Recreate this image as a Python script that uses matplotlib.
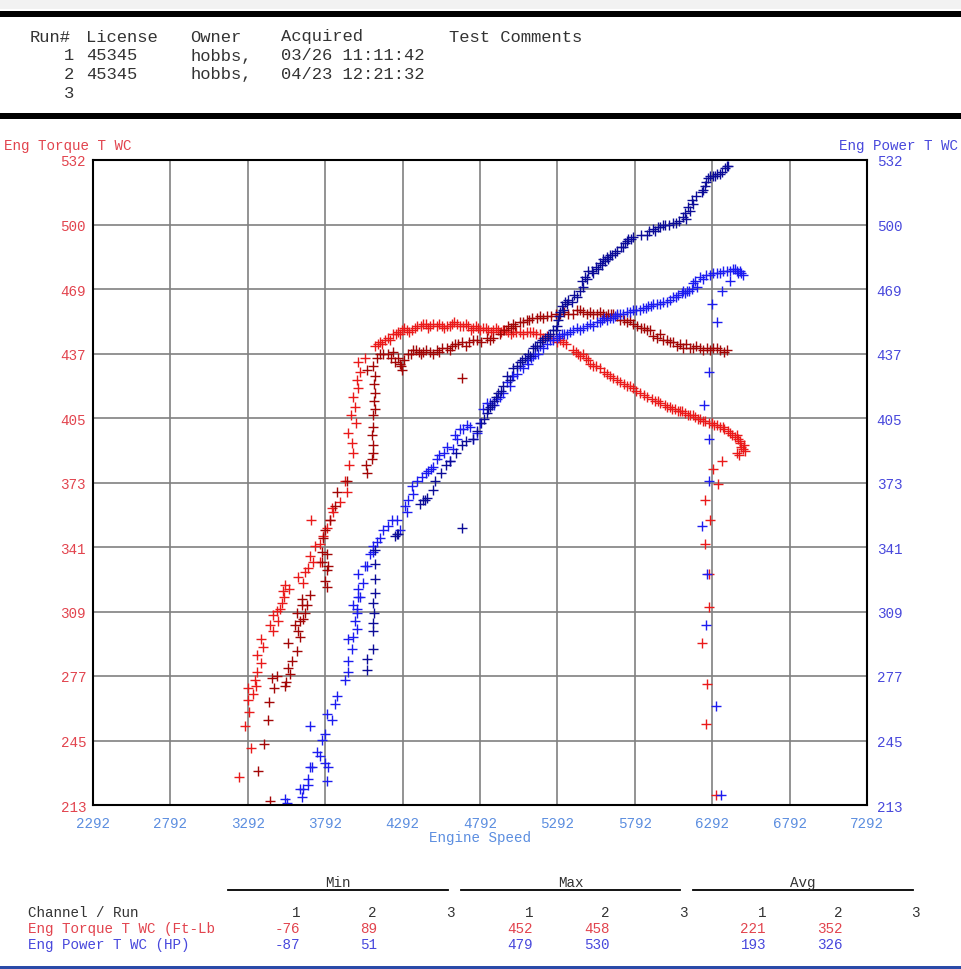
import matplotlib.pyplot as plt
from matplotlib.patches import Rectangle

W, H = 962, 970

# run 1 (03/26) - torque, bright red
tq1_rpm = [3235, 3274, 3313, 3300, 3293, 3326, 3293, 3345, 3339, 3351, 3377, 3351, 3390, 3377,
           3455, 3435, 3487, 3455, 3481, 3500, 3513, 3526, 3519, 3558, 3532, 3616, 3649, 3662,
           3681, 3713, 3758, 3700, 3694, 3726, 3758, 3778, 3804, 3823, 3842, 3836, 3888, 3933,
           3920, 3946, 3972, 3965, 3939, 3991, 3959, 3985, 3974, 4006, 3996, 4017, 4006, 4049,
           4114, 4146, 4180, 4211, 4232, 4260, 4290, 4318, 4351, 4383, 4410, 4440, 4469, 4490,
           4512, 4545, 4577, 4610, 4641, 4684, 4715, 4749, 4780, 4813, 4845, 4878, 4910, 4943,
           4975, 5007, 5050, 5094, 5134, 5180, 5223, 5265, 5309, 5350, 5393, 5425, 5457, 5490,
           5522, 5567, 5610, 5651, 5696, 5740, 5780, 5826, 5871, 5923, 5955, 5987, 6020, 6052,
           6085, 6116, 6150, 6181, 6215, 6246, 6291, 6320, 6342, 6370, 6394, 6420, 6439, 6460,
           6472, 6491, 6452, 6504, 6480,
           6355, 6297, 6329, 6246, 6278, 6246, 6271, 6271, 6226, 6258, 6252, 6317,
           4300, 4335, 4370, 4425, 4455, 4530, 4560, 4595, 4625, 4660, 4700, 4735, 4765, 4795,
           4830, 4860, 4895, 4925, 4960, 4990, 5025, 5070, 5115, 5155, 5200, 5245, 5290, 5330,
           5410, 5440, 5475, 5505, 5540, 5590, 5630, 5675, 5720, 5760, 5800, 5850, 5900, 5940,
           6000, 6035, 6070, 6100, 6135, 6165, 6200, 6230, 6270, 6305, 6360, 6410, 6450, 6470,
           6495, 6465, 4130, 4160, 4195, 4250, 4275]
tq1 = [227, 252, 241, 259, 265, 268, 271, 272, 275, 279, 283, 287, 291, 295,
       299, 302, 304, 307, 309, 310, 313, 316, 319, 320, 322, 326, 323, 328,
       330, 333, 333, 354, 336, 341, 342, 346, 350, 354, 358, 360, 363, 368,
       373, 381, 387, 392, 397, 402, 406, 410, 415, 419, 423, 427, 432, 434,
       440, 442, 443, 443, 446, 447, 448, 448, 448, 450, 450, 451, 450, 451,
       450, 450, 450, 451, 451, 450, 450, 449, 449, 449, 448, 448, 448, 448,
       447, 447, 447, 447, 447, 446, 445, 444, 443, 441, 438, 436, 436, 433,
       430, 429, 426, 424, 422, 420, 419, 417, 415, 413, 412, 411, 410, 409,
       408, 407, 406, 405, 404, 403, 402, 401, 400, 399, 398, 396, 395, 394,
       393, 389, 387, 388, 390,
       383, 379, 372, 364, 354, 342, 327, 311, 293, 273, 253, 218,
       449, 447, 449, 451, 449, 451, 449, 450, 452, 450, 451, 448, 450, 448,
       449, 447, 449, 447, 448, 446, 447, 446, 447, 446, 444, 444, 442, 442,
       437, 435, 434, 431, 430, 427, 425, 423, 421, 420, 418, 416, 414, 413,
       410, 409, 408, 408, 406, 406, 404, 403, 402, 401, 400, 397, 396, 392,
       391, 386, 441, 441, 444, 446, 446]

# run 2 (04/23) - torque, dark red
tq2_rpm = [3435, 3360, 3399, 3420, 3431, 3463, 3446, 3479, 3532, 3539, 3565, 3554, 3576, 3608,
           3554, 3629, 3618, 3597, 3629, 3647, 3608, 3662, 3640, 3672, 3640, 3694, 3791, 3802,
           3802, 3812, 3769, 3802, 3769, 3780, 3791, 3823, 3855, 3866, 3931, 4064, 4056, 4092,
           4103, 4099, 4092, 4103, 4103, 4114, 4108, 4114, 4108, 4114, 4103, 4060, 4125, 4146,
           4167, 4200, 4232, 4264, 4275, 4286, 4300, 4330, 4361, 4395, 4426, 4469, 4512, 4545,
           4577, 4610, 4631, 4674, 4720, 4771, 4835, 4878, 4920, 4950, 4975, 5007, 5050, 5094,
           5130, 5158, 5201, 5250, 5309, 5360, 5417, 5460, 5503, 5550, 5589, 5620, 5654, 5697,
           5740, 5782, 5830, 5868, 5890, 5911, 5933, 5976, 6020, 6063, 6105, 6148, 6213, 6256,
           6299, 6342, 6386, 4674,
           4215, 4245, 4280, 4345, 4380, 4410, 4445, 4490, 4525, 4595, 4650, 4700, 4745, 4800,
           4855, 4990, 5020, 5070, 5110, 5180, 5225, 5280, 5335, 5390, 5440, 5480, 5525, 5570,
           5605, 5640, 5675, 5720, 5760, 5805, 5850, 5955, 6000, 6040, 6085, 6125, 6170, 6190,
           6235, 6280, 6320, 6365]
tq2 = [215, 230, 243, 255, 264, 271, 276, 277, 272, 274, 278, 281, 284, 289,
       293, 296, 299, 302, 304, 305, 308, 308, 312, 312, 315, 317, 324, 321,
       329, 331, 333, 337, 338, 345, 349, 354, 361, 368, 373, 377, 381, 384,
       387, 391, 396, 400, 406, 409, 413, 417, 421, 425, 430, 428, 434, 436,
       436, 436, 437, 434, 431, 428, 433, 436, 438, 437, 437, 437, 438, 439,
       439, 440, 441, 442, 442, 443, 444, 444, 446, 448, 450, 451, 452, 453,
       454, 454, 454, 455, 456, 456, 458, 457, 457, 456, 456, 456, 456, 453,
       452, 451, 449, 448, 448, 445, 444, 443, 442, 440, 439, 439, 439, 439,
       439, 438, 438, 424,
       434, 432, 430, 436, 438, 436, 438, 436, 437, 438, 441, 440, 443, 442,
       443, 449, 450, 452, 453, 455, 455, 456, 457, 456, 458, 456, 456, 457,
       455, 456, 455, 453, 453, 450, 449, 446, 443, 442, 441, 441, 439, 440,
       438, 438, 439, 437]

# run 1 - power, blue
hp1_rpm = [3532, 3543, 3642, 3649, 3629, 3683, 3681, 3694, 3705, 3739, 3758, 3771, 3791, 3801,
           3812, 3791, 3694, 3804, 3836, 3855, 3868, 3920, 3939, 3939, 3965, 3972, 3941, 3985,
           4000, 3997, 3996, 3974, 4004, 4017, 4006, 4038, 4004, 4060, 4049, 4082, 4101, 4103,
           4125, 4146, 4167, 4200, 4221, 4254, 4275, 4307, 4318, 4329, 4361, 4351, 4383, 4459,
           4490, 4512, 4560, 4598, 4620, 4631, 4663, 4706, 4749, 4771, 4792, 4813, 4835, 4857,
           4900, 4921, 4943, 4964, 4997, 5007, 5029, 5050, 5072, 5094, 5104, 5136, 5169, 5180,
           5201, 5244, 5287, 5320, 5352, 5395, 5438, 5481, 5524, 5546, 5580, 5610, 5632, 5665,
           5697, 5718, 5760, 5783, 5826, 5848, 5880, 5912, 5933, 5976, 6000, 6020, 6041, 6070,
           6095, 6105, 6130, 6159, 6170, 6180, 6213, 6250, 6299, 6321, 6364, 6390, 6428, 6450,
           6472, 6493, 6407, 6353, 6289, 6321, 6273, 6239, 6271, 6271, 6226, 6258, 6252, 6317,
           6349,
           4420, 4440, 4475, 4530, 4580, 4645, 4680, 4725, 4880, 4985, 5120, 5150, 5225, 5265,
           5300, 5335, 5375, 5420, 5460, 5500, 5565, 5595, 5650, 5680, 5740, 5800, 5865, 5895,
           5955, 6060, 6115, 6145, 6195, 6230, 6275, 6340, 6410, 6440, 6460, 6480]
hp1 = [216, 214, 217, 221, 221, 223, 226, 232, 232, 239, 237, 245, 234, 225,
       232, 248, 252, 258, 255, 263, 267, 275, 279, 284, 290, 296, 295, 304,
       300, 310, 308, 312, 316, 316, 320, 323, 327, 331, 331, 337, 338, 341,
       343, 345, 349, 351, 354, 354, 349, 361, 358, 364, 367, 371, 373, 378,
       380, 384, 387, 383, 389, 396, 399, 401, 394, 397, 402, 409, 412, 412,
       414, 415, 417, 422, 425, 425, 426, 430, 429, 433, 431, 435, 436, 440,
       439, 443, 444, 446, 446, 448, 448, 450, 450, 452, 453, 453, 454, 455,
       456, 456, 457, 458, 458, 459, 460, 461, 461, 462, 462, 463, 464, 465,
       466, 467, 467, 468, 471, 472, 474, 475, 476, 476, 477, 477, 478, 477,
       477, 475, 472, 467, 461, 452, 427, 411, 394, 373, 351, 327, 302, 262,
       218,
       375, 377, 379, 386, 390, 394, 399, 400, 411, 420, 434, 436, 441, 443,
       445, 446, 447, 449, 449, 451, 452, 454, 454, 456, 457, 458, 459, 460,
       461, 464, 466, 467, 469, 473, 475, 476, 477, 478, 476, 476]

# run 2 - power, navy
hp2_rpm = [4062, 4062, 4101, 4101, 4099, 4108, 4103, 4114, 4114, 4114, 4114, 4243, 4254, 4264,
           4404, 4426, 4437, 4447, 4490, 4501, 4540, 4575, 4598, 4640, 4674, 4700, 4749, 4771,
           4800, 4835, 4857, 4880, 4910, 4943, 4964, 5007, 5050, 5080, 5115, 5136, 5160, 5180,
           5210, 5244, 5265, 5287, 5298, 5309, 5320, 5341, 5363, 5400, 5438, 5449, 5470, 5492,
           5514, 5540, 5567, 5589, 5610, 5632, 5664, 5700, 5729, 5750, 5783, 5830, 5869, 5912,
           5940, 5976, 6010, 6041, 6080, 6105, 6116, 6138, 6159, 6190, 6224, 6245, 6267, 6299,
           6320, 6342, 6375, 6396, 4674,
           4820, 4845, 4870, 4895, 4925, 4985, 5030, 5065, 5100, 5150, 5195, 5230, 5280, 5305,
           5330, 5352, 5385, 5420, 5460, 5480, 5525, 5555, 5580, 5600, 5620, 5645, 5680, 5715,
           5740, 5765, 5885, 5925, 5955, 5990, 6060, 6125, 6150, 6170, 6235, 6255, 6280, 6310,
           6355, 6385]
hp2 = [280, 285, 290, 299, 303, 308, 313, 318, 325, 332, 339, 346, 347, 347,
       362, 364, 364, 365, 369, 373, 377, 381, 383, 387, 391, 393, 394, 398,
       402, 407, 410, 413, 417, 420, 425, 429, 432, 434, 435, 439, 440, 442,
       444, 446, 448, 450, 453, 457, 460, 462, 463, 465, 467, 472, 474, 477,
       477, 479, 481, 483, 484, 485, 486, 489, 491, 493, 494, 495, 495, 498,
       499, 500, 500, 501, 502, 504, 506, 509, 512, 514, 516, 519, 523, 524,
       525, 525, 528, 529, 350,
       404, 409, 411, 415, 418, 423, 430, 433, 436, 440, 443, 445, 448, 455,
       458, 461, 462, 464, 469, 473, 476, 478, 480, 482, 483, 485, 487, 489,
       492, 493, 497, 497, 499, 500, 501, 503, 507, 510, 517, 521, 524, 524,
       526, 529]

xticks = [2292, 2792, 3292, 3792, 4292, 4792, 5292, 5792, 6292, 6792, 7292]
yticks = [213, 244.9, 276.8, 308.7, 340.6, 372.5, 404.4, 436.3, 468.2, 500.1, 532]
ytick_labels = ['213', '245', '277', '309', '341', '373', '405', '437', '469', '500', '532']

head_cols = ['Run#', 'License', 'Owner', 'Acquired', 'Test Comments']
run_no = ['1', '2', '3']
licenses = ['45345', '45345', '']
owners = ['hobbs,', 'hobbs,', '']
acquired = ['03/26 11:11:42', '04/23 12:21:32', '']

stat_groups = ['Min', 'Max', 'Avg']
tq_stats = ['-76', '89', '', '452', '458', '', '221', '352', '']
hp_stats = ['-87', '51', '', '479', '530', '', '193', '326', '']

TQ_RED = '#ea1a1a'
TQ_DARK = '#a30606'
HP_BLUE = '#1c1cf0'
HP_NAVY = '#0c0c98'
TXT_RED = '#e2444e'
TXT_BLUE = '#4848dc'
TXT_XBLUE = '#5c8ee0'
TXT_DARK = '#333333'
MONO = 'Liberation Mono'


def fx(x):
    return x / W


def fy(y):
    return 1 - y / H


fig = plt.figure(figsize=(W / 100, H / 100), dpi=100)

# header band
fig.add_artist(Rectangle((0, fy(10)), 1, 10 / H, transform=fig.transFigure, color='#f2f2f2', lw=0))
fig.add_artist(Rectangle((0, fy(17.5)), 1, 6 / H, transform=fig.transFigure, color='black', lw=0))
fig.add_artist(Rectangle((0, fy(119.5)), 1, 6 / H, transform=fig.transFigure, color='black', lw=0))
fig.add_artist(Rectangle((0, 0), 1, 3 / H, transform=fig.transFigure, color='#2a4aa8', lw=0))

hfs = 12.3
for name, x in zip(head_cols, [30, 86, 190, 281, 449]):
    fig.text(fx(x), fy(37), name, ha='left', va='center', fontsize=hfs, family=MONO, color=TXT_DARK)
for i in range(3):
    y = 56 + 19 * i
    fig.text(fx(74), fy(y), run_no[i], ha='right', va='center', fontsize=hfs, family=MONO, color=TXT_DARK)
    fig.text(fx(86), fy(y), licenses[i], ha='left', va='center', fontsize=hfs, family=MONO, color=TXT_DARK)
    fig.text(fx(190), fy(y), owners[i], ha='left', va='center', fontsize=hfs, family=MONO, color=TXT_DARK)
    fig.text(fx(281), fy(y), acquired[i], ha='left', va='center', fontsize=hfs, family=MONO, color=TXT_DARK)

# main plot
ax = fig.add_axes([fx(93), fy(806), 774 / W, 645 / H])
ms = 7.5
mew = 1.0
ax.plot(tq1_rpm, tq1, '+', color=TQ_RED, ms=ms, mew=mew)
ax.plot(tq2_rpm, tq2, '+', color=TQ_DARK, ms=ms, mew=mew)
ax.plot(hp1_rpm, hp1, '+', color=HP_BLUE, ms=ms, mew=mew)
ax.plot(hp2_rpm, hp2, '+', color=HP_NAVY, ms=ms, mew=mew)

ax.set_xlim(2292, 7292)
ax.set_ylim(213, 532)
ax.set_xticks(xticks)
ax.set_xticklabels([str(t) for t in xticks], family=MONO, fontsize=10.3, color=TXT_XBLUE)
ax.set_yticks(yticks)
ax.set_yticklabels(ytick_labels, family=MONO, fontsize=10.3, color=TXT_RED)
ax.tick_params(axis='y', length=0, pad=5)
ax.tick_params(axis='x', length=0, pad=8)
ax.grid(True, color='#808080', lw=1.2)
for s in ax.spines.values():
    s.set_color('black')
    s.set_linewidth(1.5)

ax2 = ax.twinx()
ax2.set_ylim(213, 532)
ax2.set_yticks(yticks)
ax2.set_yticklabels(ytick_labels, family=MONO, fontsize=10.3, color=TXT_BLUE)
ax2.tick_params(length=0, pad=7)
for s in ax2.spines.values():
    s.set_visible(False)

fig.text(fx(4), fy(146), 'Eng Torque T WC', ha='left', va='center', fontsize=10.3, family=MONO, color=TXT_RED)
fig.text(fx(958), fy(146), 'Eng Power T WC', ha='right', va='center', fontsize=10.3, family=MONO, color=TXT_BLUE)
fig.text(fx(480), fy(838), 'Engine Speed', ha='center', va='center', fontsize=10.3, family=MONO, color=TXT_XBLUE)

# stats table
sfs = 10.3
for name, (x0, x1) in zip(stat_groups, [(228, 448), (461, 680), (693, 913)]):
    fig.text(fx((x0 + x1) / 2), fy(883), name, ha='center', va='center', fontsize=sfs, family=MONO, color=TXT_DARK)
    fig.add_artist(plt.Line2D([fx(x0), fx(x1)], [fy(891), fy(891)], transform=fig.transFigure, color='black', lw=1.3))

col_x = [300, 377, 455, 533, 610, 688, 766, 843, 920]
fig.text(fx(28), fy(913), 'Channel / Run', ha='left', va='center', fontsize=sfs, family=MONO, color=TXT_DARK)
fig.text(fx(28), fy(929), 'Eng Torque T WC (Ft-Lb', ha='left', va='center', fontsize=sfs, family=MONO, color=TXT_RED)
fig.text(fx(28), fy(945), 'Eng Power T WC (HP)', ha='left', va='center', fontsize=sfs, family=MONO, color=TXT_BLUE)
for j, x in enumerate(col_x):
    fig.text(fx(x), fy(913), run_no[j % 3], ha='right', va='center', fontsize=sfs, family=MONO, color=TXT_DARK)
    fig.text(fx(x), fy(929), tq_stats[j], ha='right', va='center', fontsize=sfs, family=MONO, color=TXT_RED)
    fig.text(fx(x), fy(945), hp_stats[j], ha='right', va='center', fontsize=sfs, family=MONO, color=TXT_BLUE)

fig.savefig('out.png', dpi=100)
